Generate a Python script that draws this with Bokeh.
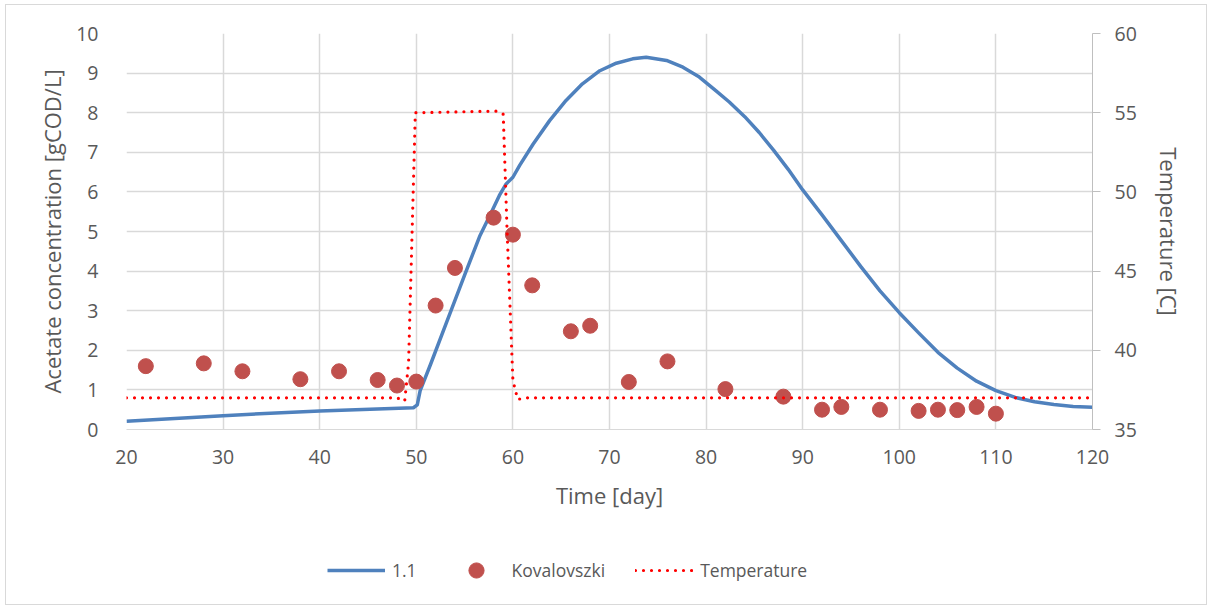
from bokeh.plotting import figure
from bokeh.layouts import column
from bokeh.models import Range1d, LinearAxis, FixedTicker, Legend, LegendItem
from bokeh.embed import file_html
from bokeh.resources import INLINE

# ---- data ----
model_day = [20, 30, 40, 49.7, 50.1, 50.4, 51.5, 53.2, 55.0, 56.6, 57.7, 58.6, 59.3, 60.0,
             60.7, 62.1, 63.8, 65.5, 67.2, 69.0, 70.7, 72.4, 73.8, 75.9, 77.6, 79.3,
             81.0, 82.4, 84.0, 85.5, 87.0, 88.5, 90.0, 92.0, 94.0, 96.0, 98.0, 100.0,
             102.0, 104.0, 106.0, 108.0, 110.0, 112.0, 114.0, 116.0, 118.0, 120]
model_val = [0.21, 0.35, 0.47, 0.55, 0.62, 0.98, 1.66, 2.75, 3.90, 4.90, 5.45, 5.91, 6.20, 6.37,
             6.67, 7.21, 7.80, 8.31, 8.73, 9.06, 9.25, 9.36, 9.40, 9.32, 9.15, 8.90,
             8.56, 8.27, 7.90, 7.50, 7.05, 6.57, 6.05, 5.42, 4.77, 4.12, 3.50, 2.95,
             2.44, 1.95, 1.55, 1.22, 0.98, 0.81, 0.70, 0.63, 0.58, 0.56]

kov_day = [22, 28, 32, 38, 42, 46, 48, 50, 52, 54, 58, 60, 62, 66, 68, 72, 76,
           82, 88, 92, 94, 98, 102, 104, 106, 108, 110]
kov_val = [1.60, 1.67, 1.47, 1.27, 1.47, 1.25, 1.11, 1.21, 3.13, 4.08, 5.35, 4.92, 3.64,
           2.48, 2.62, 1.20, 1.72, 1.02, 0.83, 0.50, 0.57, 0.50, 0.47, 0.50, 0.49, 0.57, 0.40]

temp_day = [20, 48.0, 48.8, 49.2, 49.9, 58.4, 59.0, 59.4, 60.0, 60.5, 61.3, 120]
temp_val = [37.0, 37.0, 36.8, 39.2, 55.0, 55.1, 54.9, 47.5, 38.1, 36.9, 37.0, 37.0]

series_names = ["1.1", "Kovalovszki", "Temperature"]

x_ticks = [20, 30, 40, 50, 60, 70, 80, 90, 100, 110, 120]
y_ticks = [0, 1, 2, 3, 4, 5, 6, 7, 8, 9, 10]
t_ticks = [35, 40, 45, 50, 55, 60]

FONT = "Open Sans"
TXT = "#595959"
GRID = "#d9d9d9"
BLUE = "#4f81bd"
RED = "#c0504d"
TRED = "#ff0000"

p = figure(width=1200, height=545, output_backend="svg", toolbar_location=None,
           x_range=Range1d(20, 120), y_range=Range1d(0, 10),
           min_border_left=120, min_border_right=114, min_border_top=28, min_border_bottom=121)
p.outline_line_color = None
p.background_fill_color = "white"
p.border_fill_color = "white"
p.extra_y_ranges = {"temp": Range1d(35, 60)}

# axes
xa = p.xaxis[0]
xa.ticker = FixedTicker(ticks=x_ticks)
xa.axis_label = "Time [day]"
xa.axis_line_color = GRID
xa.major_tick_line_color = None
xa.minor_tick_line_color = None
xa.major_label_standoff = 14
xa.axis_label_standoff = 13

ya = p.yaxis[0]
ya.ticker = FixedTicker(ticks=y_ticks)
ya.axis_label = "Acetate concentration [gCOD/L]"
ya.axis_line_color = None
ya.major_tick_line_color = None
ya.minor_tick_line_color = None
ya.major_label_standoff = 22
ya.axis_label_standoff = 6

ra = LinearAxis(y_range_name="temp", ticker=FixedTicker(ticks=t_ticks), axis_label="Temperature [C]")
ra.axis_line_color = "#bfbfbf"
ra.major_tick_line_color = "#bfbfbf"
ra.major_tick_out = 8
ra.major_tick_in = 0
ra.minor_tick_line_color = None
ra.major_label_standoff = 14
ra.axis_label_standoff = 14
p.add_layout(ra, "right")

for ax in [xa, ya, ra]:
    ax.major_label_text_font = FONT
    ax.major_label_text_font_size = "19.5px"
    ax.major_label_text_color = TXT
    ax.axis_label_text_font = FONT
    ax.axis_label_text_font_size = "22px"
    ax.axis_label_text_color = TXT
    ax.axis_label_text_font_style = "normal"

p.xgrid.ticker = FixedTicker(ticks=x_ticks)
p.ygrid.ticker = FixedTicker(ticks=y_ticks)
p.xgrid.grid_line_color = GRID
p.ygrid.grid_line_color = GRID
p.xgrid.grid_line_width = 1.5
p.ygrid.grid_line_width = 1.5

# glyphs
p.line(model_day, model_val, line_color=BLUE, line_width=3.5, line_join="round")
p.scatter(kov_day, kov_val, size=15, fill_color=RED, line_color=RED)
p.line(temp_day, temp_val, y_range_name="temp", line_color=TRED, line_width=3.2,
       line_dash="0 8", line_cap="round")

# legend strip below the chart (same styles as the series; off-range samples keep them unseen)
lg = figure(width=1200, height=54, output_backend="svg", toolbar_location=None,
            x_range=Range1d(0, 1), y_range=Range1d(0, 1), x_axis_type=None, y_axis_type=None,
            min_border=0)
lg.outline_line_color = None
lg.grid.visible = False
l1 = lg.line([-10, -9], [-10, -10], line_color=BLUE, line_width=3.5)
l2 = lg.scatter([-10], [-10], size=15, fill_color=RED, line_color=RED)
l3 = lg.line([-10, -9], [-10, -10], line_color=TRED, line_width=3.2, line_dash="0 8", line_cap="round")

legend = Legend(items=[LegendItem(label=series_names[0], renderers=[l1]),
                       LegendItem(label=series_names[1], renderers=[l2]),
                       LegendItem(label=series_names[2], renderers=[l3])],
                orientation="horizontal", location=(201, 15))
legend.label_text_font = FONT
legend.label_text_font_size = "17.5px"
legend.label_text_color = TXT
legend.glyph_width = 58
legend.glyph_height = 38
legend.label_height = 20
legend.label_standoff = 7
legend.spacing = 30
legend.padding = 0
legend.margin = 0
legend.border_line_color = None
legend.background_fill_alpha = 0
lg.add_layout(legend, "center")

layout = column(p, lg, spacing=0,
                styles={"margin-left": "5px", "margin-top": "4px", "border": "1px solid #d9d9d9"})

open("out.html", "w").write(file_html(layout, INLINE))
